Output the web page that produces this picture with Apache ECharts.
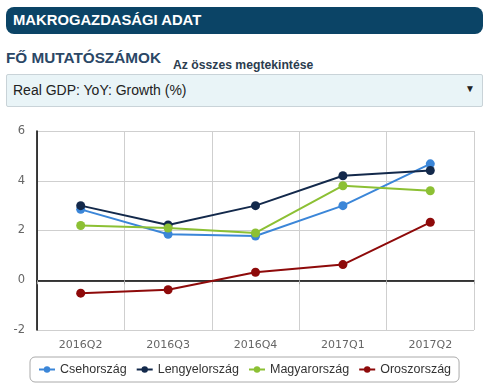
<!DOCTYPE html>
<html><head><meta charset="utf-8">
<script src="https://cdn.jsdelivr.net/npm/echarts@6/dist/echarts.min.js"></script>
<style>
html,body{margin:0;padding:0;background:#fff;width:488px;height:390px;overflow:hidden;font-family:"Liberation Sans",Arial,sans-serif;}
#hdr{position:absolute;left:6px;top:7px;width:477px;height:27px;background:#0b4466;border-radius:8px;}
#hdr span{position:absolute;left:7px;top:5px;color:#fff;font-weight:bold;font-size:14.8px;}
#t1{position:absolute;left:6px;top:49px;color:#2b4766;font-weight:bold;font-size:15.3px;}
#t2{position:absolute;left:173px;top:58px;color:#2b3c4e;font-weight:bold;font-size:12.2px;}
#sel{position:absolute;left:6px;top:74px;width:475px;height:31px;background:#e9f4f7;border:1px solid #c9d3d8;border-radius:2px;}
#sel span{position:absolute;left:6px;top:7px;color:#222;font-size:14px;}
#sel b{position:absolute;right:7px;top:8px;font-size:10px;color:#222;}
#chart{position:absolute;left:0;top:110px;width:488px;height:280px;}
</style></head>
<body>
<div id="hdr"><span>MAKROGAZDASÁGI ADAT</span></div>
<div id="t1">FŐ MUTATÓSZÁMOK</div>
<div id="t2">Az összes megtekintése</div>
<div id="sel"><span>Real GDP: YoY: Growth (%)</span><b>▼</b></div>
<div id="chart"></div>
<script>
const categories = ["2016Q2","2016Q3","2016Q4","2017Q1","2017Q2"];
const czech = [2.85, 1.85, 1.78, 3.0, 4.68];
const poland = [3.0, 2.22, 3.0, 4.2, 4.41];
const hungary = [2.2, 2.1, 1.9, 3.8, 3.6];
const russia = [-0.52, -0.38, 0.32, 0.63, 2.33];
const seriesNames = ["Csehország","Lengyelország","Magyarország","Oroszország"];
const colors = ["#3b86d8","#13294b","#8cc034","#8e0a0a"];
const yMin = -2, yMax = 6, yStep = 2;

const chart = echarts.init(document.getElementById('chart'));
const data = [czech, poland, hungary, russia];
chart.setOption({
  animation:false,
  grid:{left:37,right:14,top:21,bottom:60,containLabel:false},
  xAxis:{type:'category',data:categories,boundaryGap:true,
    axisLine:{lineStyle:{color:'#000',width:1.5}},
    axisTick:{show:true,length:4,lineStyle:{color:'#aaa'}},
    axisLabel:{color:'#666',fontSize:11,fontFamily:'DejaVu Sans',margin:10},
    splitLine:{show:true,lineStyle:{color:'#cfcfcf'}}},
  yAxis:{type:'value',min:yMin,max:yMax,interval:yStep,
    axisLine:{show:true,lineStyle:{color:'#000',width:1.5}},
    axisTick:{show:false},
    axisLabel:{color:'#666',fontSize:11.5,fontFamily:'DejaVu Sans',margin:12},
    splitLine:{lineStyle:{color:'#cfcfcf'}}},
  legend:{top:247,left:30,width:420,padding:[6,8],itemGap:9,
    borderColor:'#aaa',borderWidth:1,borderRadius:5,
    itemWidth:16,itemHeight:8,
    textStyle:{color:'#333',fontSize:12.5,fontFamily:'"Liberation Sans",Arial'},
    data:seriesNames},
  series:seriesNames.map((n,i)=>({name:n,type:'line',data:data[i],
    symbol:'circle',symbolSize:9,color:colors[i],
    lineStyle:{width:2,color:colors[i]},itemStyle:{color:colors[i]}}))
});
</script>
</body></html>
